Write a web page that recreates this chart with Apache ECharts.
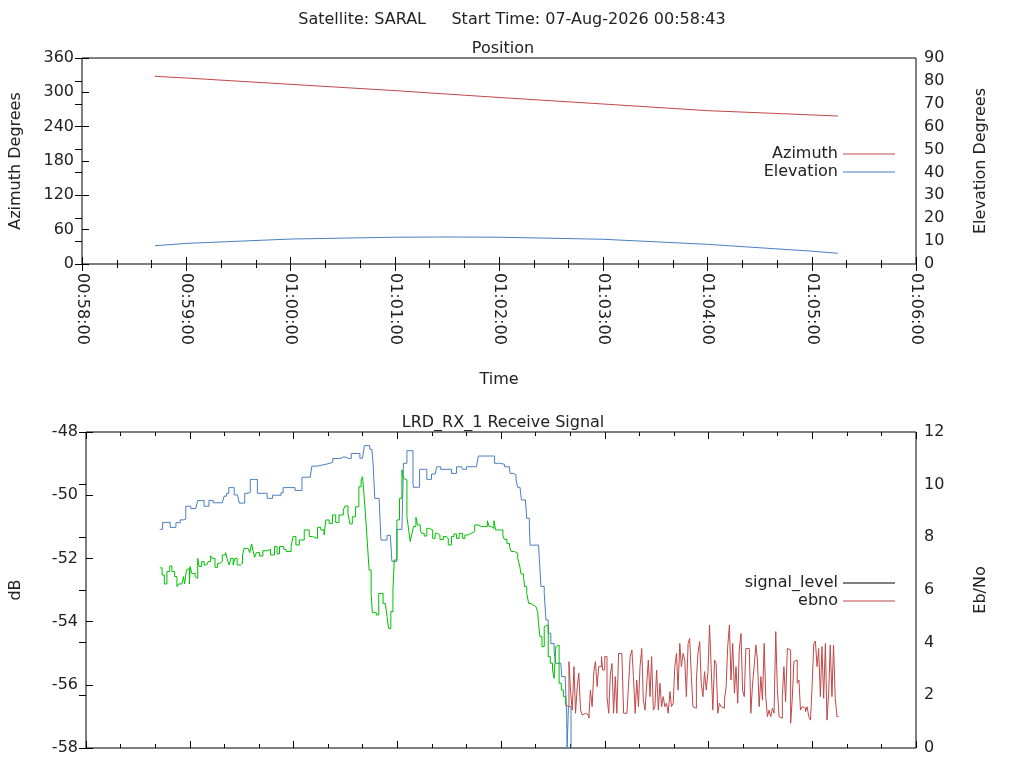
<!DOCTYPE html>
<html><head><meta charset="utf-8">
<script src="https://cdn.jsdelivr.net/npm/echarts@6/dist/echarts.min.js"></script>
<style>html,body{margin:0;padding:0;background:#fff}#c{width:1024px;height:768px}</style>
</head><body><div id="c"></div>
<script>
// time in seconds after 00:58:00
const posT = [42, 60, 120, 180, 210, 240, 300, 360, 420, 435];
const azimuth = [328, 325, 314, 303, 297, 291, 279.6, 268, 260.5, 258.6];
const elevation = [8.0, 9.0, 10.9, 11.7, 11.8, 11.7, 10.8, 8.6, 5.6, 4.7];

const sigT = [42.6,44.3,47.4,48.7,50.7,52.0,54.5,56.4,57.7,60.6,63.5,64.6,66.9,68.3,69.8,71.1,73.6,78.8,79.9,81.3,82.6,84.5,85.7,87.6,88.7,90.5,91.8,93.7,95.0,97.5,99.1,103.3,104.8,106.3,107.9,110.2,112.8,114.0,119.7,120.9,123.7,124.9,129.7,130.6,133.9,138.9,140.0,142.7,146.1,147.3,149.2,150.1,152.0,153.4,156.8,158.4,159.9,161.0,162.6,164.1,165.3,166.0,167.0,169.5,170.6,172.9,174.1,176.0,176.9,178.5,179.8,182.7,183.6,185.6,187.9,189.1,189.4,191.7,192.9,195.6,197.1,198.6,199.8,201.9,202.8,205.1,208.2,211.4,212.4,214.3,217.2,217.8,220.0,225.8,226.9,235.0,236.3,239.2,242.0,244.9,245.3,247.2,248.7,249.7,251.0,251.8,254.1,254.9,256.4,256.8,261.7,262.1,263.1,265.0,266.0,267.3,268.8,270.7,271.7,274.6,275.1,277.1,278.0,278.2,279.0,279.9,280.5];
const sigV = [-51.08,-50.86,-50.86,-51.02,-51.02,-50.87,-50.78,-50.76,-50.35,-50.42,-50.42,-50.17,-50.17,-50.35,-50.35,-50.17,-50.24,-50.24,-50.03,-49.94,-49.76,-49.76,-49.99,-50.03,-50.25,-50.25,-49.94,-49.91,-49.50,-49.50,-49.94,-49.94,-50.10,-50.10,-50.00,-50.00,-49.92,-49.76,-49.76,-49.85,-49.85,-49.43,-49.43,-49.08,-49.02,-49.02,-48.96,-48.84,-48.84,-48.78,-48.78,-48.84,-48.84,-48.68,-48.68,-48.83,-48.83,-48.43,-48.43,-48.55,-48.57,-48.96,-50.10,-50.10,-51.42,-51.42,-51.27,-51.27,-52.09,-52.09,-51.08,-51.08,-48.99,-48.59,-48.59,-49.62,-49.75,-49.75,-49.18,-49.18,-49.50,-49.50,-49.33,-49.33,-49.10,-49.18,-49.18,-49.31,-49.31,-49.10,-49.10,-49.18,-49.10,-49.08,-48.76,-48.76,-48.99,-49.02,-49.10,-49.18,-49.31,-49.36,-49.52,-49.75,-49.75,-50.15,-50.15,-50.73,-50.94,-51.58,-51.58,-51.95,-52.89,-53.11,-53.95,-54.37,-54.69,-54.95,-55.32,-55.32,-55.74,-55.74,-57.01,-58.06,-56.69,-56.69,-58.06];

const ebLockT = [42.6,44.0,45.3,46.8,48.4,49.7,51.2,52.6,53.5,55.4,56.4,57.0,58.1,58.9,59.8,60.2,61.2,63.1,63.7,64.6,65.4,66.9,68.3,69.8,70.7,72.1,73.2,74.6,76.1,77.4,78.8,80.7,81.8,82.8,83.8,85.1,86.1,87.4,89.3,90.5,91.4,93.7,94.7,95.8,96.6,97.5,98.5,100.4,102.3,104.8,106.7,109.0,110.5,111.9,114.4,115.7,118.6,119.7,121.4,123.4,126.2,129.1,131.0,133.9,135.8,137.7,138.7,140.6,142.5,144.4,146.3,148.8,149.8,151.5,152.6,154.0,155.9,157.8,159.1,159.9,160.7,161.6,162.6,163.7,164.9,165.6,167.9,169.3,170.6,171.8,173.1,174.1,175.0,176.3,177.5,178.3,179.8,181.3,182.7,183.6,184.7,185.6,186.6,187.5,188.5,189.4,190.8,191.7,193.3,194.2,195.6,197.1,198.6,200.5,201.9,203.4,204.7,206.7,208.2,209.5,211.4,212.8,214.3,215.8,217.8,219.1,221.0,222.9,224.8,226.7,228.7,230.6,232.1,233.1,234.4,235.9,236.9,239.2,241.1,242.0,243.4,244.9,245.9,247.8,249.7,250.7,251.6,253.0,253.7,254.9,256.0,257.4,258.7,260.2,261.2,261.7,262.5,263.7,265.0,266.0,267.3,268.5,269.8,270.7,271.7,272.7,273.6,274.9,276.1,277.4];
const ebLockV = [6.84,6.57,6.23,6.70,6.91,6.70,6.51,6.13,6.23,6.23,6.51,6.23,6.76,6.82,6.23,6.89,6.63,6.51,6.44,7.20,6.89,7.08,6.95,7.01,7.08,7.30,7.20,6.86,7.01,7.08,7.33,7.42,7.14,6.95,7.20,6.95,7.20,6.95,7.01,7.29,7.58,7.58,7.42,7.75,7.49,7.24,7.42,7.29,7.49,7.54,7.33,7.65,7.37,7.65,7.54,7.46,7.65,8.03,7.71,7.90,8.28,8.03,7.96,8.38,8.28,8.09,8.66,8.53,8.85,8.56,8.85,9.04,9.19,8.91,8.51,8.78,9.16,9.92,10.18,10.30,9.67,8.91,7.90,6.76,5.87,5.14,5.05,5.87,5.87,5.49,5.43,4.99,4.54,5.18,6.00,7.14,8.66,9.48,10.56,10.24,10.18,8.78,8.28,7.84,8.15,8.41,8.76,8.47,8.28,8.15,8.05,8.34,8.28,7.96,8.15,8.09,7.92,8.03,7.96,7.71,8.03,8.13,7.96,8.15,7.96,8.09,8.15,8.22,8.47,8.41,8.41,8.41,8.63,8.41,8.34,8.63,8.28,8.28,8.05,7.92,7.77,7.65,7.46,7.39,7.20,6.95,6.61,6.51,6.13,5.87,5.49,5.43,5.37,5.30,5.18,4.73,4.23,3.85,4.61,4.67,3.47,3.22,2.96,2.65,3.85,3.91,2.46,2.20,1.95,1.63];

const ebT = [277.4,278.3,279.3,280.3,281.2,282.2,283.1,284.1,285.0,286.0,287.0,287.9,288.9,290.8,291.7,292.7,293.7,294.6,295.6,296.5,298.1,298.8,300.0,301.3,302.3,303.2,304.2,305.1,306.1,307.0,308.0,309.9,310.9,312.8,313.7,314.7,315.7,316.6,317.6,318.5,319.5,320.4,321.4,322.3,323.3,324.3,325.2,326.2,327.1,328.1,329.0,330.0,331.0,331.9,332.9,333.8,334.8,335.7,336.7,337.7,338.6,339.6,340.5,341.5,342.4,343.4,344.3,345.3,346.3,347.2,348.2,349.1,350.1,351.0,352.0,353.0,353.9,354.9,355.8,356.8,357.7,358.7,359.7,360.6,361.6,362.5,363.5,364.4,365.4,366.3,367.3,368.3,369.2,370.2,371.1,372.1,373.0,374.0,375.0,375.9,376.9,377.8,378.8,379.7,380.7,381.6,383.6,384.5,385.5,386.4,387.4,388.3,389.3,390.3,391.2,392.2,393.1,394.1,395.0,396.0,397.0,397.9,398.9,399.8,400.8,401.7,402.7,403.6,404.6,405.6,406.5,407.5,408.4,409.4,410.3,411.3,412.3,413.2,414.2,415.1,416.1,417.0,418.0,419.0,419.9,420.9,421.8,422.8,423.7,424.7,425.6,426.6,427.6,428.5,429.5,430.4,431.4,432.3,433.3,434.3,435.2];
const ebV = [1.63,1.57,3.28,2.08,1.44,3.09,1.32,2.33,2.84,1.44,1.25,1.32,1.25,1.13,2.20,1.57,2.90,3.28,2.33,3.09,3.47,2.96,3.47,1.95,1.32,2.77,3.21,1.32,2.71,1.32,3.59,3.53,1.32,1.32,2.33,3.47,3.72,2.71,1.32,2.58,1.57,3.09,3.78,1.82,1.44,2.46,3.34,1.95,3.47,1.44,1.57,2.96,1.44,2.46,1.57,1.95,1.57,1.70,1.32,2.14,1.57,1.70,3.09,3.59,2.20,3.97,3.09,3.59,3.34,1.95,3.97,4.16,2.71,1.57,1.51,2.58,3.59,4.04,2.46,1.95,2.90,2.20,2.90,4.67,2.96,1.44,3.34,3.21,1.32,1.70,1.57,1.51,1.82,2.33,3.85,4.67,2.58,3.97,2.08,3.09,1.70,3.72,4.35,2.20,1.95,3.78,3.72,1.32,2.46,3.09,3.91,3.34,1.57,2.71,1.82,3.97,1.95,1.19,1.44,1.19,1.51,1.32,4.42,2.27,1.19,1.13,1.95,3.09,1.76,3.78,3.72,0.94,1.82,3.28,3.34,2.46,2.58,1.44,1.57,1.51,1.38,1.57,1.19,1.06,2.33,3.97,4.06,3.09,3.78,1.95,3.85,1.89,3.97,1.06,2.08,3.91,1.95,3.91,1.89,1.19,1.19];

const xTickLabels = ['00:58:00','00:59:00','01:00:00','01:01:00','01:02:00','01:03:00','01:04:00','01:05:00','01:06:00'];

const zip = (a, b) => a.map((t, i) => [t, b[i]]);
const FONT = 'DejaVu Sans';
const txt = {fontFamily: FONT, fontSize: 16, color: '#222'};
const RED = '#c04848', BLUE = '#4a7fbf', GREEN = '#00c000';

function xAx(grid, pos, labels, extra) {
  return Object.assign({
    type: 'value', gridIndex: grid, position: pos, min: 0, max: 480, interval: 60,
    axisLine: {show: false}, splitLine: {show: false},
    axisTick: {show: true, inside: true, length: 7, lineStyle: {color: '#000'}},
    minorTick: {show: true, splitNumber: 3, length: 4, lineStyle: {color: '#000'}},
    axisLabel: labels ? {show: true, rotate: -90, margin: 9, ...txt,
      formatter: v => xTickLabels[Math.round(v / 60)]} : {show: false}
  }, extra || {});
}
function yAx(grid, pos, min, max, interval, name, gap) {
  return {
    type: 'value', gridIndex: grid, position: pos, min, max, interval,
    name, nameLocation: 'middle', nameGap: gap, nameRotate: 90, nameTextStyle: txt,
    axisLine: {show: false}, splitLine: {show: false},
    axisTick: {show: true, inside: true, length: 7, lineStyle: {color: '#000'}},
    axisLabel: {show: true, margin: 8, ...txt}
  };
}

const chart = echarts.init(document.getElementById('c'));
chart.setOption({
  animation: false,
  backgroundColor: '#fff',
  title: [
    {text: 'Satellite: SARAL     Start Time: 07-Aug-2026 00:58:43', left: 'center', top: 7, textStyle: {...txt, fontWeight: 'normal'}},
    {text: 'Position', left: 498, textAlign: 'center', top: 36, textStyle: {...txt, fontWeight: 'normal'}},
    {text: 'LRD_RX_1 Receive Signal', left: 498, textAlign: 'center', top: 410, textStyle: {...txt, fontWeight: 'normal'}}
  ],
  grid: [
    {left: 80, width: 836, top: 58, height: 206, show: true, borderColor: '#000', borderWidth: 1, backgroundColor: 'transparent'},
    {left: 80, width: 836, top: 432, height: 316, show: true, borderColor: '#000', borderWidth: 1, backgroundColor: 'transparent'}
  ],
  xAxis: [
    xAx(0, 'bottom', true, {name: 'Time', nameLocation: 'middle', nameGap: 108, nameTextStyle: txt}),
    xAx(0, 'top', false),
    xAx(1, 'bottom', false),
    xAx(1, 'top', false)
  ],
  yAxis: [
    yAx(0, 'left', 0, 360, 60, 'Azimuth Degrees', 58),
    yAx(0, 'right', 0, 90, 10, 'Elevation Degrees', 57),
    yAx(1, 'left', -58, -48, 2, 'dB', 62),
    yAx(1, 'right', 0, 12, 2, 'Eb/No', 57)
  ],
  legend: [
    {orient: 'vertical', right: 124, top: 141, align: 'right', itemGap: 2, itemWidth: 52, itemHeight: 1, icon: 'rect',
     textStyle: txt, data: [{name: 'Azimuth', itemStyle: {color: RED}}, {name: 'Elevation', itemStyle: {color: BLUE}}]},
    {orient: 'vertical', right: 124, top: 570, align: 'right', itemGap: 2, itemWidth: 52, itemHeight: 1, icon: 'rect',
     textStyle: txt, data: [{name: 'signal_level', itemStyle: {color: '#000'}}, {name: 'ebno', itemStyle: {color: RED}}]}
  ],
  series: [
    {name: 'Azimuth', type: 'line', xAxisIndex: 0, yAxisIndex: 0, data: zip(posT, azimuth), showSymbol: false, lineStyle: {color: RED, width: 1}, itemStyle: {color: RED}},
    {name: 'Elevation', type: 'line', xAxisIndex: 0, yAxisIndex: 1, data: zip(posT, elevation), showSymbol: false, lineStyle: {color: BLUE, width: 1}, itemStyle: {color: BLUE}},
    {name: 'signal_level', type: 'line', step: 'end', xAxisIndex: 2, yAxisIndex: 2, data: zip(sigT, sigV), showSymbol: false, clip: true, lineStyle: {color: BLUE, width: 1}, itemStyle: {color: '#000'}},
    {name: 'ebno_locked', type: 'line', step: 'end', xAxisIndex: 2, yAxisIndex: 3, data: zip(ebLockT, ebLockV), showSymbol: false, lineStyle: {color: GREEN, width: 1}, itemStyle: {color: GREEN}},
    {name: 'ebno', type: 'line', step: 'end', xAxisIndex: 2, yAxisIndex: 3, data: zip(ebT, ebV), showSymbol: false, lineStyle: {color: RED, width: 1}, itemStyle: {color: RED}}
  ]
});
</script></body></html>
